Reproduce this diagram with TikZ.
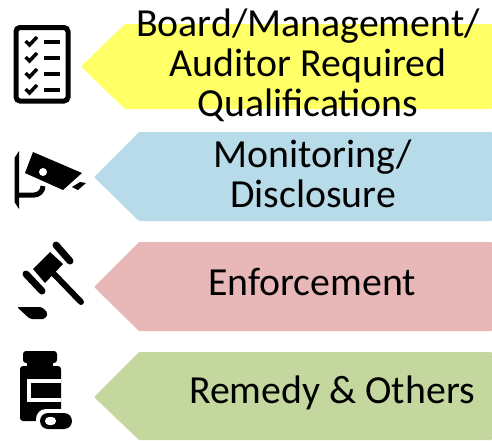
\documentclass[tikz,border=0pt]{standalone}
\usepackage{fontspec}
\setmainfont{Carlito}
\definecolor{bannerYellow}{HTML}{FFFF66}
\definecolor{bannerBlue}{HTML}{B7DBE8}
\definecolor{bannerPink}{HTML}{E8B8B8}
\definecolor{bannerGreen}{HTML}{C4D79E}
\tikzset{
  banner/.style={draw=none, rounded corners=1pt},
  bannertext/.style={align=center, font=\fontsize{39.8}{40}\selectfont, text=black, inner sep=0pt},
  icon/.style={fill=black, draw=none},
  iconline/.style={draw=black, line width=4pt}
}
\begin{document}
\begin{tikzpicture}[x=1pt, y=-1pt]
  \useasboundingbox (0,0) rectangle (492,440);
  % banners
  \fill[banner, bannerYellow] (81,66.5) -- (125,24) -- (492,24) -- (492,109) -- (125,109) -- cycle;
  \fill[banner, bannerBlue] (94,177) -- (139,132) -- (492,132) -- (492,221) -- (139,221) -- cycle;
  \fill[banner, bannerPink] (94,287) -- (139,242) -- (492,242) -- (492,331) -- (139,331) -- cycle;
  \fill[banner, bannerGreen] (94,397) -- (139,352) -- (492,352) -- (492,440) -- (139,440) -- cycle;
  \node[bannertext] (n0) at (308,65) {Board/Management/\\Auditor Required\\Qualifications};
  \node[bannertext] (n1) at (313,174) {Monitoring/\\Disclosure};
  \node[bannertext] (n2) at (312,282) {Enforcement};
  \node[bannertext] (n3) at (332,393) {Remedy \& Others};
  % checklist
  \draw[black, line width=5pt, rounded corners=4pt] (16,27.5) rectangle (68,101);
  \foreach \y in {41,57,73,89} {
    \draw[black, line width=3.5pt] (25.5,\y) -- (29.5,\y+4) -- (37,\y-4);
    \draw[black, line width=4pt] (44,\y+1) -- (60,\y+1);
  }
  % camera
  \fill[icon] (19,151) -- (14.5,158) -- (14.5,202) -- (19,209) -- cycle;
  \draw[iconline, line width=5pt] (17,195) -- (34,195) arc[start angle=90, end angle=0, radius=9];
  \fill[icon] (33,152) -- (82,173) -- (63,190) -- (25,173) -- cycle;
  \fill[white] (43,172) circle (4);
  \fill[icon] (72,187) -- (80,182) -- (86,183) -- (78,190) -- cycle;
  % gavel
  \draw[black, line width=7pt, line cap=round] (56,245) -- (70,261);
  \draw[black, line width=7pt, line cap=round] (26,274) -- (42,291);
  \fill[icon] (33,269) -- (50,252) -- (63,264) -- (45,283) -- cycle;
  \draw[black, line width=6pt, line cap=round] (54,274) -- (81,302);
  \fill[icon, rounded corners=2pt] (17,307) -- (42,307) -- (48,313) -- (45,319) -- (30,319) -- cycle;
  % bottle
  \fill[icon, rounded corners=3pt] (23,351) rectangle (57,363);
  \fill[icon] (27,362) rectangle (53,368);
  \fill[icon, rounded corners=3pt] (20,366) rectangle (61,421);
  \fill[white] (27,379) rectangle (61,402);
  \fill[icon] (31,383) rectangle (61,398);
  \fill[white, rounded corners=10pt] (36,409) rectangle (76,433);
  \fill[icon, rounded corners=8pt] (40,413) rectangle (72,429);
  \fill[white, rounded corners=4pt] (45,417) rectangle (56,425);
\end{tikzpicture}
\end{document}
